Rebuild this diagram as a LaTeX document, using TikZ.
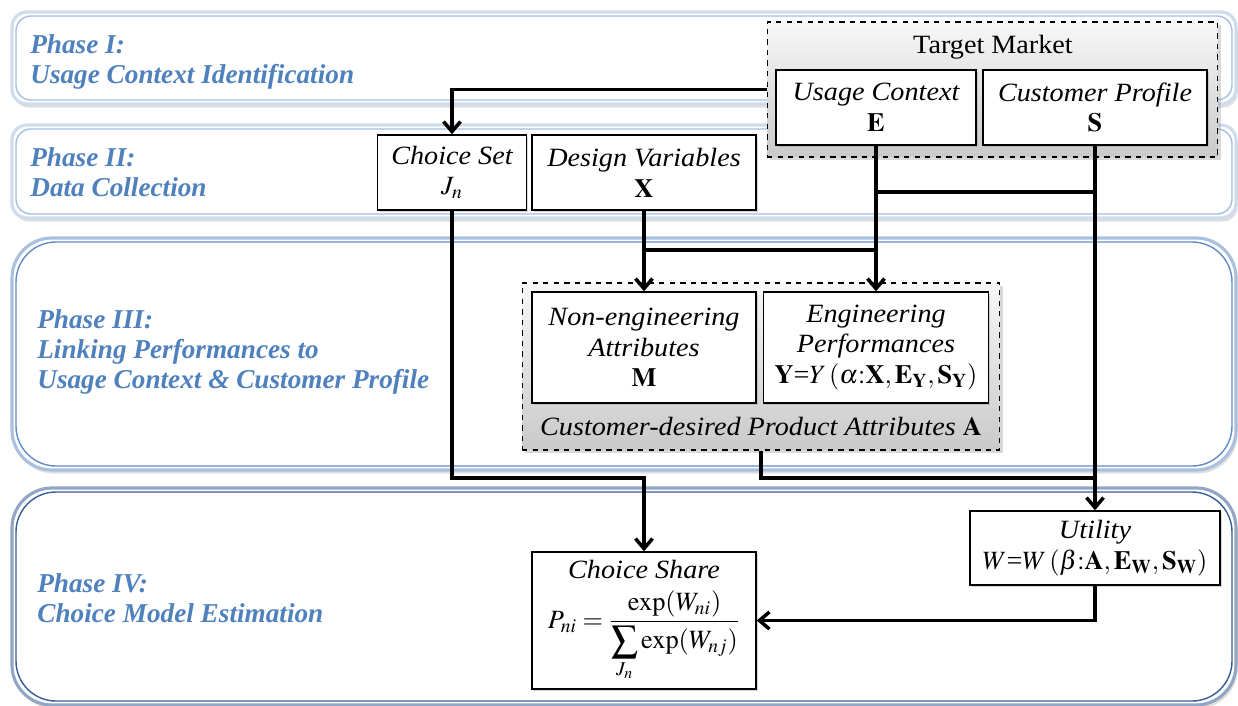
\documentclass[tikz,border=0pt]{standalone}
\usepackage{amsmath}
\usepackage{mathptmx}
\usepackage{fontspec}
\setmainfont{Liberation Serif}
\newfontfamily\boxserif[FakeStretch=1.07]{Liberation Serif}
\usetikzlibrary{arrows.meta,shadows}

\definecolor{phasetext}{RGB}{79,129,189}
\definecolor{phaselight}{RGB}{167,191,222}
\definecolor{phasemid}{RGB}{98,140,196}
\definecolor{phasedeep}{RGB}{56,93,150}

\newcommand\boxfont{\boxserif\fontsize{15}{17.5}\selectfont}
\newcommand\phasefont{\fontsize{15.5}{17}\selectfont\bfseries\itshape}

\begin{document}
\begin{tikzpicture}[x=0.02cm, y=-0.02cm,
    phaselabel/.style={anchor=west, align=left, inner sep=0pt, text=phasetext, font=\phasefont},
    panelout/.style={line width=1.8pt, fill=white, drop shadow={opacity=0.25, shadow xshift=1pt, shadow yshift=-2pt}},
    panelin/.style={line width=0.8pt},
    groupbox/.style={draw, dashed, line width=0.6pt, top color=gray!6, bottom color=gray!42,
        drop shadow={opacity=0.3, shadow xshift=1.5pt, shadow yshift=-1.5pt}},
    box/.style={draw, fill=white, line width=0.8pt, align=center, inner sep=1pt, font=\boxfont,
        drop shadow={opacity=0.3, shadow xshift=1pt, shadow yshift=-1pt}},
    conn/.style={line width=2pt},
    arr/.style={conn, -{Straight Barb[length=2mm, width=3.4mm]}}]
    \useasboundingbox (0,0) rectangle (1238,706);

    % Phase panels
    \foreach \ytop/\ybot/\rad/\col in {12/104/0.3cm/phaselight, 125/218/0.3cm/phaselight,
        238/470/0.8cm/phasemid, 488/705/0.8cm/phasedeep}{
        \draw[panelout, draw=\col!55, rounded corners=\rad] (12,\ytop) rectangle (1236,\ybot);
        \draw[panelin, draw=\col, rounded corners=\rad] (16,\ytop+4) rectangle (1232,\ybot-4);
    }

    \node[phaselabel] (ph1) at (30,62) {Phase I:\\Usage Context Identification};
    \node[phaselabel] (ph2) at (30,172) {Phase II:\\Data Collection};
    \node[phaselabel] (ph3) at (37,352) {Phase III:\\Linking Performances to\\Usage Context \&\ Customer Profile};
    \node[phaselabel] (ph4) at (37,598) {Phase IV:\\Choice Model Estimation};

    % Target market
    \node[groupbox, minimum width=9.02cm, minimum height=2.7cm] (tm) at (992.5,89.5) {};
    \node[font=\boxfont, inner sep=0pt] (tmtitle) at (993,47) {Target Market};
    \node[box, minimum width=4cm, minimum height=1.5cm] (uc) at (876,107.5) {\itshape Usage Context\\$\mathbf{E}$};
    \node[box, minimum width=4.48cm, minimum height=1.5cm] (cp) at (1095,107.5) {\itshape Customer Profile\\$\mathbf{S}$};

    % Data collection
    \node[box, minimum width=2.98cm, minimum height=1.5cm] (cs) at (452,172.5) {\itshape Choice Set\\$J_n$};
    \node[box, minimum width=4.48cm, minimum height=1.5cm] (dv) at (644,172.5) {\itshape Design Variables\\$\mathbf{X}$};

    % Product attributes
    \node[groupbox, minimum width=9.56cm, minimum height=3.34cm] (pa) at (761,366.5) {};
    \node[font=\boxfont, inner sep=0pt] (palabel) at (761,427) {\itshape Customer-desired Product Attributes $\mathbf{A}$};
    \node[box, minimum width=4.48cm, minimum height=2.22cm] (ne) at (644,347.5)
        {\itshape Non-engineering\\\itshape Attributes\\$\mathbf{M}$};
    \node[box, minimum width=4.5cm, minimum height=2.22cm] (ep) at (876,347.5)
        {\itshape Engineering\\\itshape Performances\\$\mathbf{Y}$=$Y\,(\alpha{:}\mathbf{X},\mathbf{E}_{\mathbf{Y}},\mathbf{S}_{\mathbf{Y}})$};

    % Choice model
    \node[box, minimum width=5cm, minimum height=1.48cm] (ut) at (1095,548)
        {\itshape Utility\\$W$=$W\,(\beta{:}\mathbf{A},\mathbf{E}_{\mathbf{W}},\mathbf{S}_{\mathbf{W}})$};
    \node[box, minimum width=4.48cm, minimum height=2.74cm] (sh) at (644,620.5)
        {\itshape Choice Share\\[6pt]$\displaystyle P_{ni}=\frac{\exp(W_{ni})}{\displaystyle\sum\limits_{J_n}\exp(W_{nj})}$};

    % Connectors
    \coordinate (ejoin) at (0,192);
    \coordinate (xjoin) at (0,250);
    \coordinate (low) at (0,478);
    \draw[arr] (tm.west) -| (cs.north);
    \draw[arr] (uc.south) -- (ep.north);
    \draw[arr] (cp.south) -- (ut.north);
    \draw[conn] (uc.south |- ejoin) -- (cp.south |- ejoin);
    \draw[arr] (dv.south) -- (ne.north);
    \draw[conn] (dv.south |- xjoin) -- (ep.north |- xjoin);
    \draw[arr] (cs.south) -- (cs.south |- low) -| (sh.north);
    \draw[conn] (pa.south) -- (pa.south |- low) -- (cp.south |- low);
    \draw[arr] (ut.south) |- (sh.east);
\end{tikzpicture}
\end{document}
